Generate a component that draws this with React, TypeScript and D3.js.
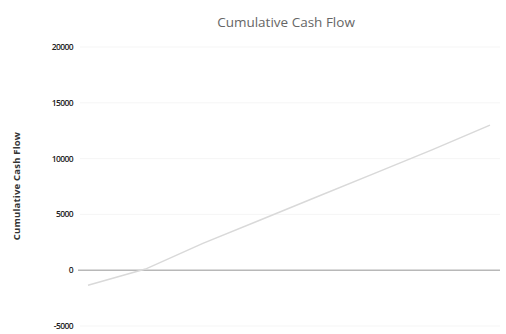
import React from "react";
import * as d3 from "d3";

// Cumulative cash flow by period
const periods = ["0", "1", "2", "3", "4", "5", "6", "7"];
const cumulative = [-1350, 100, 2400, 4500, 6600, 8700, 10800, 13000];
const yTicks = [-5000, 0, 5000, 10000, 15000, 20000];

const W = 506;
const H = 334;
const plot = { left: 80, right: 500, top: 47, bottom: 326 };

export default function App() {
  const x = d3
    .scalePoint<string>()
    .domain(periods)
    .range([88, 490]);
  const y = d3
    .scaleLinear()
    .domain([-5000, 20000])
    .range([plot.bottom, plot.top]);

  const line = d3
    .line<number>()
    .x((_, i) => x(periods[i]) as number)
    .y((d) => y(d));

  const font = "'Open Sans', 'Liberation Sans', sans-serif";

  return (
    <svg
      width={W}
      height={H}
      style={{ position: "absolute", left: 0, top: 0, background: "#fff" }}
      fontFamily={font}
    >
      <rect width={W} height={H} fill="#fff" />
      <text
        x={286}
        y={27}
        textAnchor="middle"
        fontSize={13.5}
        fill="#666"
      >
        Cumulative Cash Flow
      </text>
      <text
        transform={`translate(20, 186) rotate(-90)`}
        textAnchor="middle"
        fontSize={9.5}
        fontWeight="bold"
        fill="#333"
        letterSpacing={0.2}
      >
        Cumulative Cash Flow
      </text>
      {yTicks.map((t) => (
        <g key={t}>
          {t !== 0 && (
            <line
              x1={plot.left}
              x2={plot.right}
              y1={y(t)}
              y2={y(t)}
              stroke="#f5f5f5"
              strokeWidth={1}
            />
          )}
          <text
            x={73}
            y={y(t) + 3}
            textAnchor="end"
            fontSize={8.5}
            fontWeight="600"
            fill="#222"
            letterSpacing={-0.6}
          >
            {t}
          </text>
        </g>
      ))}
      <line
        x1={plot.left - 2}
        x2={plot.right}
        y1={y(0)}
        y2={y(0)}
        stroke="#b8b8b8"
        strokeWidth={1.5}
      />
      <path
        d={line(cumulative) ?? ""}
        fill="none"
        stroke="#d9d9d9"
        strokeWidth={1.5}
      />
    </svg>
  );
}
